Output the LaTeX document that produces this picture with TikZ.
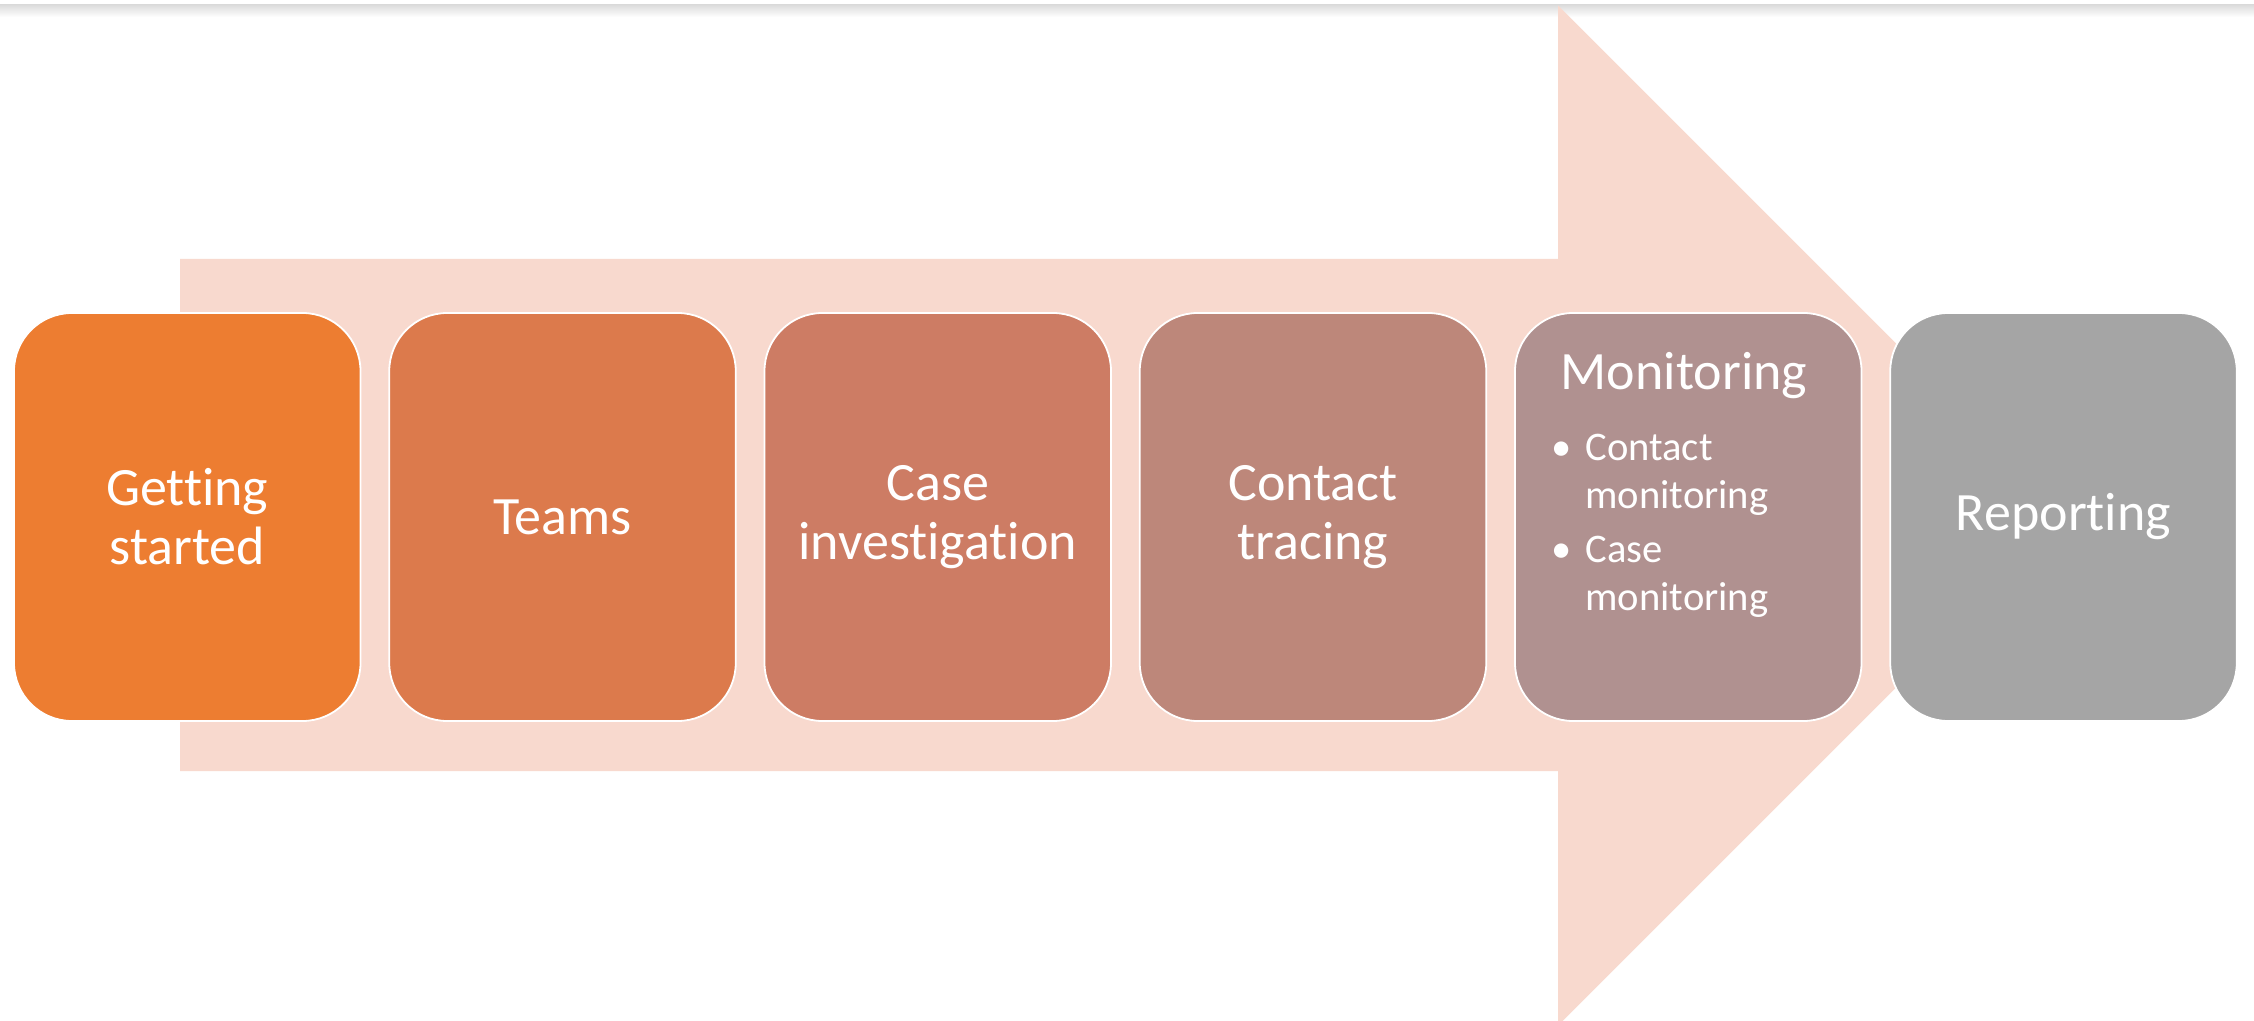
\documentclass[tikz,border=0pt]{standalone}
\usepackage{fontspec}
\setmainfont{Carlito}[Ligatures={NoCommon}]
\definecolor{arrowpink}{HTML}{F8D9CE}
\definecolor{cone}{HTML}{ED7D31}
\definecolor{ctwo}{HTML}{DC7A4C}
\definecolor{cthree}{HTML}{CD7C64}
\definecolor{cfour}{HTML}{BD877A}
\definecolor{cfive}{HTML}{B09190}
\definecolor{csix}{HTML}{A5A5A5}
\definecolor{shadowgray}{HTML}{DCDCDC}
\tikzset{
  stagebox/.style={draw=white, line width=0.9pt, rounded corners=29pt,
    minimum width=173.25pt, minimum height=204pt, inner sep=0pt,
    text=white, align=center, text width=165pt,
    font=\fontsize{27}{29.6}\selectfont},
  titletext/.style={text=white, inner sep=0pt, font=\fontsize{27}{29.6}\selectfont},
  itemtext/.style={text=white, inner sep=0pt, font=\fontsize{20.3}{23.8}\selectfont}
}
\begin{document}
\begin{tikzpicture}[x=0.5pt,y=-0.5pt]
\useasboundingbox (0,0) rectangle (2254,1021);
\clip (0,0) rectangle (2254,1021);
\fill[white] (0,0) rectangle (2254,1021);
% top shadow strip
\shade[top color=shadowgray, bottom color=white] (0,5) rectangle (2254,17);
% big background arrow
\fill[arrowpink] (180,259) -- (1558,259) -- (1558,5.5) -- (2068,515.5)
  -- (1558,1025.5) -- (1558,771) -- (180,771) -- cycle;
% stages
\node[stagebox, fill=cone]   (s1) at (187.25,517) {Getting\\started};
\node[stagebox, fill=ctwo]   (s2) at (562.5,517)  {Teams};
\node[stagebox, fill=cthree] (s3) at (937.75,517) {Case\\investigation};
\node[stagebox, fill=cfour]  (s4) at (1313,517)   {Contact\\tracing};
\node[stagebox, fill=cfive]  (s5) at (1688.25,517) {};
\node[stagebox, fill=csix]   (s6) at (2063.5,517) {Reporting};
% monitoring content
\node[titletext, anchor=base] (m5title) at (1684,389.3) {Monitoring};
\node[itemtext, anchor=base west] (m5a) at (1551,460.7) {\makebox[17pt][l]{•}Contact};
\node[itemtext, anchor=base west] (m5b) at (1585,508.3) {monitoring};
\node[itemtext, anchor=base west] (m5c) at (1551,562.7) {\makebox[17pt][l]{•}Case};
\node[itemtext, anchor=base west] (m5d) at (1585,610.3) {monitoring};
\end{tikzpicture}
\end{document}
